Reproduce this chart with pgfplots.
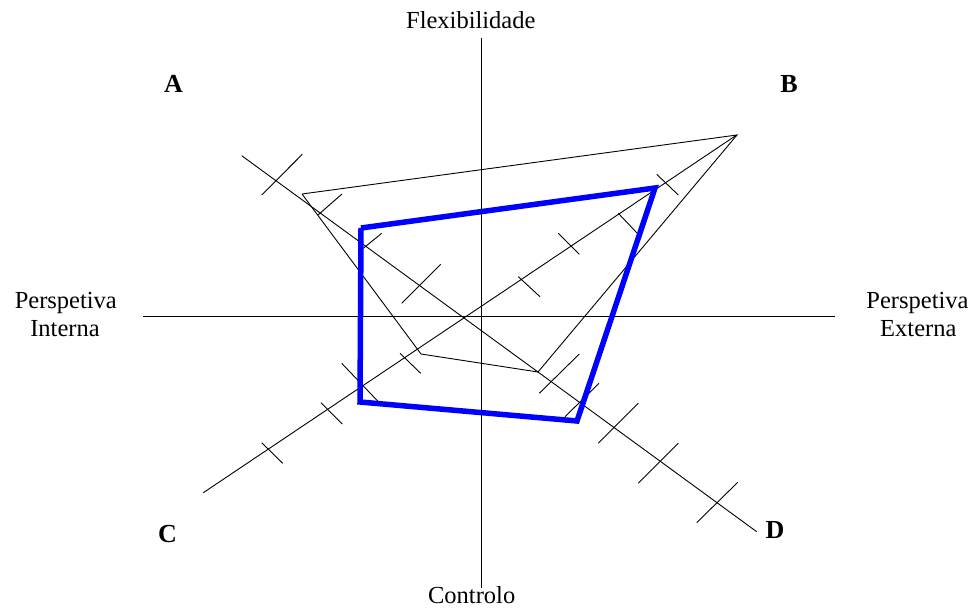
\documentclass[border=0pt]{standalone}
\usepackage{fontspec}
\setmainfont{Liberation Serif}
\usepackage{pgfplots}
\pgfplotsset{compat=1.18}
\begin{document}
\begin{tikzpicture}
\begin{axis}[
  width=972bp, height=610bp, scale only axis,
  xmin=0, xmax=972, ymin=0, ymax=610, y dir=reverse,
  hide axis, clip=false, unbounded coords=jump,
  ln/.style={black, solid, mark=none, line width=0.9bp},
]
\path (axis cs:0,0) rectangle (axis cs:972,610);
% main axes
\addplot[ln] coordinates {(481,38) (481,588)};
\addplot[ln] coordinates {(143,316) (835,316)};
% diagonals
\addplot[ln] coordinates {(241.7,155.7) (756.7,531.7)};
\addplot[ln] coordinates {(203.3,492.7) (736.7,135)};
% ticks on A-D diagonal
\addplot[ln] coordinates {
(261.7,195) (302.3,154.3) (nan,nan)
(318,215) (342,194) (nan,nan)
(363.3,248.3) (381.7,233.3) (nan,nan)
(401.7,303.3) (440.7,264.3) (nan,nan)
(539.3,393.3) (579.3,354) (nan,nan)
(565,416.7) (599,383.3) (nan,nan)
(598.3,443.3) (638.3,403.3) (nan,nan)
(638.3,483.3) (678.3,443.3) (nan,nan)
(696.7,522.7) (737.7,482.3)
};
% ticks on C-B diagonal
\addplot[ln] coordinates {
(261.7,442.7) (282.7,463.3) (nan,nan)
(321,402.7) (342.3,424) (nan,nan)
(341.7,363.3) (378.3,401.7) (nan,nan)
(400,353.3) (420.7,373.3) (nan,nan)
(518.3,276.7) (540,296.7) (nan,nan)
(558.3,233.3) (579.3,254.3) (nan,nan)
(618.3,213.3) (637.3,233.3) (nan,nan)
(656.7,174.3) (678.3,195)
};
% thin profile
\addplot[ln] coordinates {(302,194) (737,135) (538,372) (421,354) (302,194)};
% blue profile
\addplot[blue, solid, mark=none, line width=5.5bp, line join=miter] coordinates {(361,228) (655,188) (577,421) (360,402) (361,228)};
% labels
\begin{scope}[every node/.style={font=\fontsize{24.5bp}{28bp}\selectfont, inner sep=0pt, anchor=base}]
\node at (axis cs:470.8,28.3) {Flexibilidade};
\node at (axis cs:471.7,603.3) {Controlo};
\node at (axis cs:65.8,308.3) {Perspetiva};
\node at (axis cs:65,336.7) {Interna};
\node at (axis cs:917.5,308.3) {Perspetiva};
\node at (axis cs:918.3,336.7) {Externa};
\end{scope}
\begin{scope}[every node/.style={font=\fontsize{26bp}{30bp}\selectfont\bfseries, inner sep=0pt, anchor=base}]
\node at (axis cs:173.5,92.5) {A};
\node at (axis cs:789,92.5) {B};
\node at (axis cs:167.5,543) {C};
\node at (axis cs:775,539) {D};
\end{scope}
\end{axis}
\end{tikzpicture}
\end{document}
